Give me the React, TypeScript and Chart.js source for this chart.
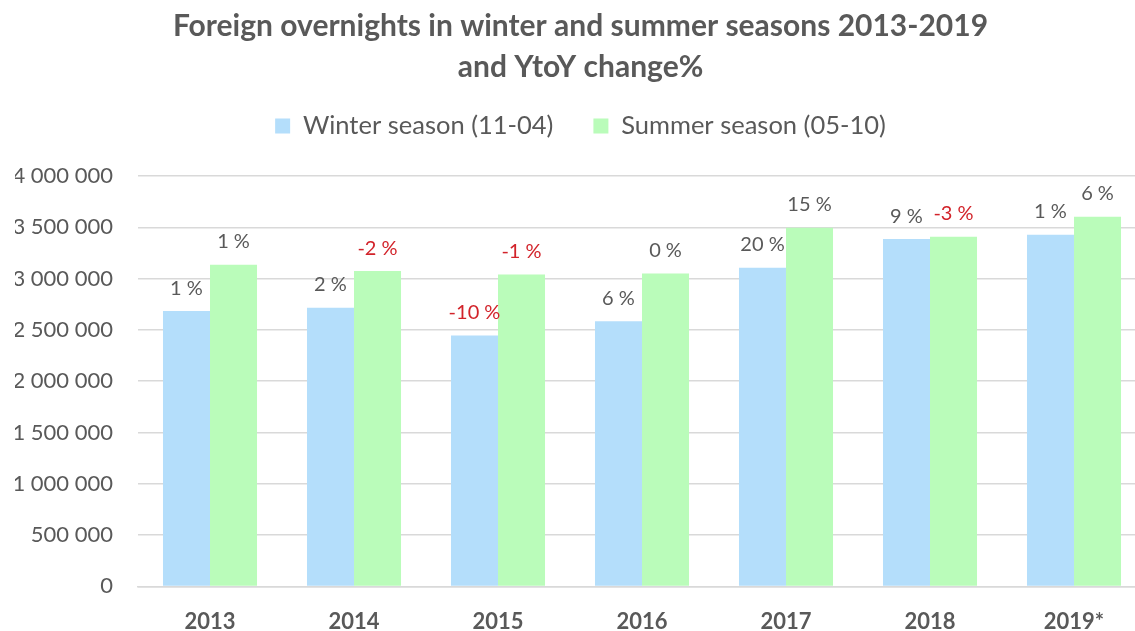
import React, { useEffect, useRef } from "react";
import { Chart, registerables } from "chart.js";

Chart.register(...registerables);

const categories = ["2013", "2014", "2015", "2016", "2017", "2018", "2019*"];
const winterValues = [2683000, 2715000, 2446000, 2585000, 3106000, 3385000, 3428000];
const summerValues = [3135000, 3073000, 3041000, 3050000, 3496000, 3408000, 3603000];
const winterChange = [1, 2, -10, 6, 20, 9, 1];
const summerChange = [1, -2, -1, 0, 15, -3, 6];
const titleLines = ["Foreign overnights in winter and summer seasons 2013-2019", "and YtoY change%"];
const seriesNames = ["Winter season (11-04)", "Summer season (05-10)"];

const GRAY = "#595959";
const RED = "#D2232A";
const FONT = "Lato";

const changeLabels = {
  id: "changeLabels",
  afterDatasetsDraw(chart: any) {
    const ctx = chart.ctx;
    const changes = [winterChange, summerChange];
    ctx.save();
    ctx.font = `20px ${FONT}`;
    ctx.textAlign = "center";
    ctx.textBaseline = "middle";
    chart.data.datasets.forEach((_: any, di: number) => {
      const meta = chart.getDatasetMeta(di);
      meta.data.forEach((bar: any, i: number) => {
        const v = changes[di][i];
        ctx.fillStyle = v < 0 ? RED : GRAY;
        ctx.fillText(`${v} %`, bar.x, bar.y - 23);
      });
    });
    ctx.restore();
  },
};

export default function App() {
  const ref = useRef<HTMLCanvasElement | null>(null);
  useEffect(() => {
    if (!ref.current) return;
    const chart = new Chart(ref.current, {
      type: "bar",
      data: {
        labels: categories,
        datasets: [
          { label: seriesNames[0], data: winterValues, backgroundColor: "#B4DEFB" },
          { label: seriesNames[1], data: summerValues, backgroundColor: "#BAFCBA" },
        ],
      },
      options: {
        animation: false,
        responsive: false,
        maintainAspectRatio: false,
        devicePixelRatio: 1,
        layout: { padding: { left: 15, right: 26, top: 0, bottom: 0 } },
        datasets: { bar: { categoryPercentage: 0.653, barPercentage: 1 } },
        plugins: {
          title: {
            display: true,
            text: titleLines,
            color: GRAY,
            font: { family: FONT, size: 30, weight: "bold", lineHeight: 41 / 30 },
            padding: { top: 5.5, bottom: -14.25 },
          },
          subtitle: {
            display: true,
            text: "",
            weight: 500,
            font: { size: 1, lineHeight: 1 },
            padding: { top: 0, bottom: 26.25 },
          } as any,
          legend: {
            display: true,
            position: "top",
            labels: {
              color: GRAY,
              font: { family: FONT, size: 25.5 },
              boxWidth: 15,
              boxHeight: 15,
              padding: 40,
            },
          },
          tooltip: { enabled: false },
        },
        scales: {
          x: {
            grid: { display: false, drawTicks: false },
            border: { display: true, color: "#D9D9D9", width: 1.5 },
            ticks: { color: GRAY, font: { family: FONT, size: 22, weight: "bold" }, padding: 22.6 },
          },
          y: {
            min: 0,
            max: 4000000,
            grid: { color: "#D9D9D9", lineWidth: 1.5, drawTicks: false },
            border: { display: false },
            afterFit: (scale: any) => {
              scale.width = 123;
            },
            ticks: {
              stepSize: 500000,
              color: GRAY,
              font: { family: FONT, size: 22 },
              padding: 25,
              callback: (v: any) => Number(v).toString().replace(/\B(?=(\d{3})+(?!\d))/g, " "),
            },
          },
        },
      },
      plugins: [changeLabels],
    });
    return () => chart.destroy();
  }, []);
  return (
    <div style={{ position: "fixed", left: 0, top: 0, width: 1135, height: 631, overflow: "hidden", background: "#fff" }}>
      <canvas
        ref={ref}
        width={1172}
        height={658}
        style={{ position: "absolute", left: 0, top: 0, width: 1172, height: 658 }}
      />
    </div>
  );
}
